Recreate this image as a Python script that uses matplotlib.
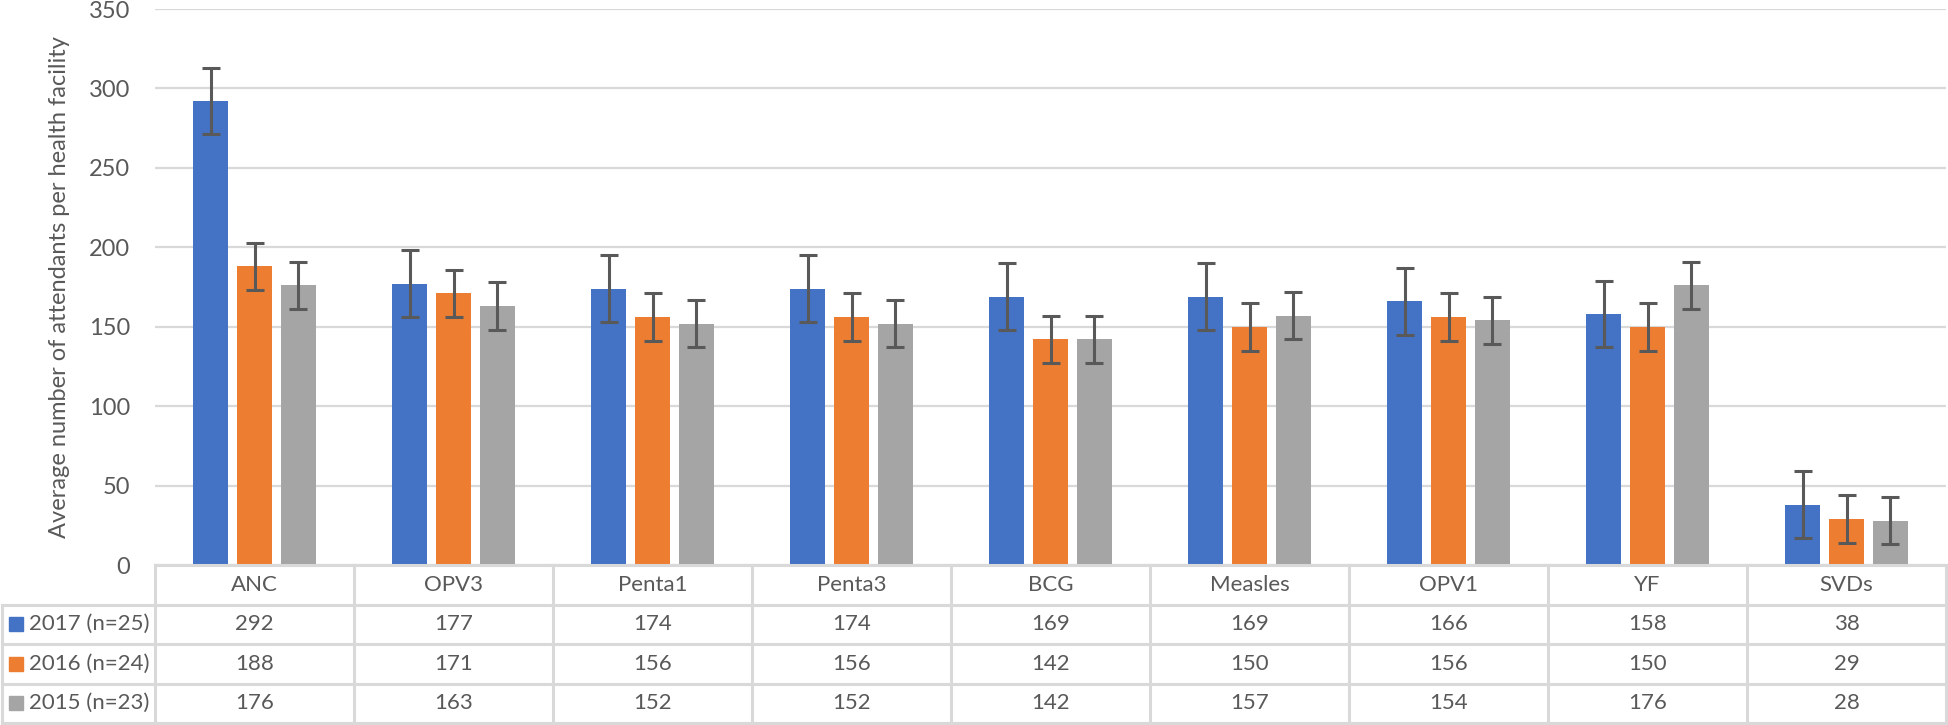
import numpy as np
import matplotlib.pyplot as plt

plt.rcParams['font.family'] = ['Lato', 'DejaVu Sans']

categories = ["ANC", "OPV3", "Penta1", "Penta3", "BCG", "Measles", "OPV1", "YF", "SVDs"]
series = ["2017 (n=25)", "2016 (n=24)", "2015 (n=23)"]
v2017 = [292, 177, 174, 174, 169, 169, 166, 158, 38]
v2016 = [188, 171, 156, 156, 142, 150, 156, 150, 29]
v2015 = [176, 163, 152, 152, 142, 157, 154, 176, 28]
e2017 = [21, 21, 21, 21, 21, 21, 21, 21, 21]
e2016 = [15, 15, 15, 15, 15, 15, 15, 15, 15]
e2015 = [15, 15, 15, 15, 15, 15, 15, 15, 15]

values = [v2017, v2016, v2015]
errors = [e2017, e2016, e2015]
colors = ["#4472C4", "#ED7D31", "#A5A5A5"]
txt = "#595959"
grid = "#D9D9D9"

W, H = 1948, 725
fig = plt.figure(figsize=(W / 100, H / 100), dpi=100)

# main bar axes (pixel layout)
x0, x1, ytop, ybot = 155, 1946, 9, 565
ax = fig.add_axes([x0 / W, (H - ybot) / H, (x1 - x0) / W, (ybot - ytop) / H])
x = np.arange(len(categories))
step = 0.221
bw = 0.176
for i in range(3):
    ax.bar(x + (i - 1) * step, values[i], bw, color=colors[i], zorder=3)
    ax.errorbar(x + (i - 1) * step, values[i], yerr=errors[i], fmt="none",
                ecolor="#595959", elinewidth=2.2, capsize=6.5, capthick=2.2, zorder=4)

ax.set_xlim(-0.5, len(categories) - 0.5)
ax.set_ylim(0, 350)
ax.set_yticks(np.arange(0, 351, 50))
ax.set_xticks([])
ax.yaxis.grid(True, color=grid, linewidth=1.6, zorder=0)
for s in ax.spines.values():
    s.set_visible(False)
ax.tick_params(axis="y", length=0, pad=18, labelsize=17, labelcolor=txt)
fig.text(60 / W, 1 - 287 / H, "Average number of attendants per health facility",
         rotation=90, ha="center", va="center", fontsize=17, color=txt)

# data table below
tax = fig.add_axes([0, 2 / H, x1 / W, (H - ybot - 2) / H])
left = -0.5 - x0 / 199.0
tax.set_xlim(left, len(categories) - 0.5)
tax.set_ylim(4, 0)
tax.axis("off")
lc = dict(color=grid, linewidth=2.2, solid_capstyle="projecting", clip_on=False)
n = len(categories)
tax.plot([-0.5, n - 0.5], [0, 0], **lc)
for r in range(1, 5):
    tax.plot([left + 0.01, n - 0.5], [r, r], **lc)
for c in range(n + 1):
    tax.plot([c - 0.5, c - 0.5], [0, 4], **lc)
tax.plot([left + 0.01, left + 0.01], [1, 4], **lc)

for c, name in enumerate(categories):
    tax.text(c, 0.5, name, ha="center", va="center", fontsize=16, color=txt)
    for r in range(3):
        tax.text(c, r + 1.5, str(values[r][c]), ha="center", va="center",
                 fontsize=16, color=txt)
for r in range(3):
    tax.plot([left + 16 / 199], [r + 1.5], marker="s", markersize=9.5,
             color=colors[r], linestyle="none")
    tax.text(left + 29 / 199, r + 1.5, series[r], ha="left", va="center",
             fontsize=16, color=txt)

fig.savefig("out.png", dpi=100)
